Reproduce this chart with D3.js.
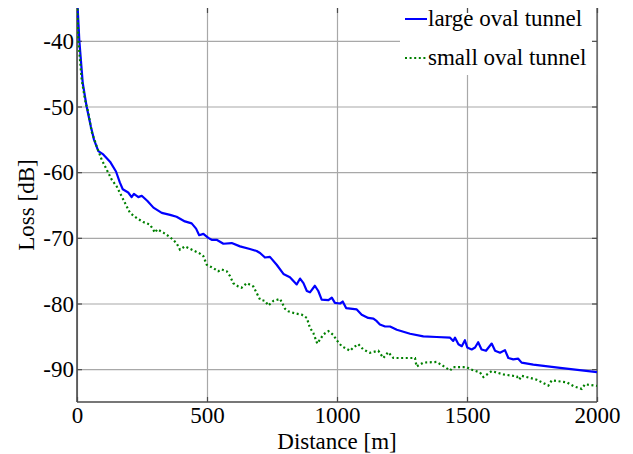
<!DOCTYPE html>
<html>
<head>
<meta charset="utf-8">
<script src="https://cdn.jsdelivr.net/npm/d3@7"></script>
<style>
  html, body { margin: 0; padding: 0; background: #fff; }
  svg text { font-family: "Liberation Serif", "Times New Roman", Times, serif; }
</style>
</head>
<body>
<svg id="chart" width="633" height="454"></svg>
<script>
// Path loss along the tunnel for two cross-sections
const largeDist = [0, 9, 22, 37, 53, 65, 82, 101, 127, 150, 165, 176, 197, 210, 219, 236, 249, 271, 294, 326,
  358, 383, 415, 441, 458, 470, 486, 505, 518, 537, 563, 595, 627, 665, 691, 704, 723, 742, 768, 794,
  819, 845, 858, 871, 884, 896, 915, 928, 941, 967, 980, 992, 1012, 1022, 1035, 1076, 1095, 1120, 1140, 1153,
  1165, 1185, 1204, 1230, 1281, 1332, 1383, 1435, 1447, 1454, 1467, 1480, 1492, 1501, 1518, 1531, 1543, 1556, 1573, 1595,
  1608, 1627, 1646, 1659, 1678, 1697, 1710, 1755, 1858, 2000];
const largeLoss = [-33, -40, -46.4, -50, -53, -55, -56.8, -57.3, -58.4, -59.9, -61.6, -62.6, -63.1, -63.8, -63.3, -63.8, -63.6, -64.4, -65.4, -66.2,
  -66.5, -66.8, -67.5, -67.8, -68.6, -69.6, -69.4, -70.0, -70.3, -70.3, -70.9, -70.8, -71.3, -71.7, -72.0, -72.3, -73.0, -72.9, -74.1, -75.5,
  -76.0, -77.1, -76.2, -76.9, -78.1, -78.3, -77.3, -78.1, -79.4, -79.5, -79.1, -79.9, -80.0, -79.7, -80.7, -80.9, -81.7, -82.2, -82.3, -82.7,
  -83.2, -83.5, -83.5, -84.0, -84.6, -85.0, -85.1, -85.2, -85.7, -85.2, -86.2, -86.5, -85.6, -86.7, -87.0, -86.7, -85.9, -87.0, -87.2, -86.1,
  -87.2, -87.5, -87.1, -88.3, -88.5, -88.4, -89.0, -89.3, -89.8, -90.45];

const smallDist = [0, 5, 18, 31, 44, 56, 76, 95, 114, 133, 153, 172, 191, 204, 230, 255, 281, 300, 309, 332,
  358, 383, 396, 415, 447, 473, 486, 499, 524, 543, 556, 576, 588, 601, 620, 633, 653, 678, 691, 704,
  723, 736, 755, 781, 800, 813, 838, 864, 884, 896, 909, 924, 948, 967, 986, 999, 1018, 1050, 1063, 1082,
  1101, 1127, 1159, 1178, 1197, 1217, 1268, 1300, 1306, 1332, 1383, 1408, 1435, 1447, 1499, 1512, 1550, 1563, 1595, 1640,
  1691, 1701, 1710, 1768, 1813, 1826, 1883, 1910, 1941, 1954, 2000];
const smallLoss = [-33, -39.8, -45.9, -49, -51, -53.8, -56.1, -58.1, -59.6, -61.1, -62.2, -63.7, -65.2, -66.2, -67.0, -67.6, -68.0, -69.2, -68.7, -69.2,
  -69.9, -70.8, -71.8, -71.3, -71.9, -72.4, -72.8, -74.1, -74.6, -75.1, -74.8, -75.1, -75.8, -76.9, -77.4, -77.6, -76.9, -77.4, -78.4, -79.4,
  -79.6, -80.3, -79.6, -79.3, -80.8, -81.2, -81.5, -81.7, -82.2, -83.7, -84.5, -86.1, -84.7, -84.2, -84.8, -85.6, -86.5, -87.2, -86.7, -86.2,
  -87.0, -87.5, -87.2, -88.3, -87.4, -88.3, -88.3, -88.3, -89.6, -89.0, -88.9, -89.5, -90.2, -89.7, -89.7, -90.0, -90.5, -91.2, -90.3, -90.8,
  -91.1, -91.6, -91.0, -91.6, -92.5, -91.7, -92.0, -92.6, -93.0, -92.3, -92.55];

const seriesNames = ["large oval tunnel", "small oval tunnel"];
const xTicks = [0, 500, 1000, 1500, 2000];
const yTicks = [-40, -50, -60, -70, -80, -90];
const xLabel = "Distance [m]";
const yLabel = "Loss [dB]";

const margin = { left: 77, right: 36, top: 8, bottom: 52 };
const W = 633, H = 454;
const innerW = W - margin.left - margin.right;
const innerH = H - margin.top - margin.bottom;
const serif = "'Liberation Serif', 'Times New Roman', Times, serif";
const fontSize = 23;

const svg = d3.select("#chart");
const g = svg.append("g").attr("transform", `translate(${margin.left},${margin.top})`);

const x = d3.scaleLinear().domain([0, 2000]).range([0, innerW]);
const y = d3.scaleLinear().domain([-95, -35]).range([innerH, 0]);

svg.append("defs").append("clipPath").attr("id", "plotClip")
  .append("rect").attr("width", innerW).attr("height", innerH);

// grid lines
const gridColor = "#a8a8a8";
g.append("g").attr("class", "xgrid")
  .attr("transform", `translate(0,${innerH})`)
  .call(d3.axisBottom(x).tickValues(xTicks).tickSize(-innerH).tickFormat(""))
  .call(s => s.select(".domain").remove())
  .call(s => s.selectAll("line").attr("stroke", gridColor).attr("stroke-width", 1.2));
g.append("g").attr("class", "ygrid")
  .call(d3.axisLeft(y).tickValues(yTicks).tickSize(-innerW).tickFormat(""))
  .call(s => s.select(".domain").remove())
  .call(s => s.selectAll("line").attr("stroke", gridColor).attr("stroke-width", 1.2));

// legend background hides the grid behind it
const legend = g.append("g").attr("class", "legend");
legend.append("rect")
  .attr("x", 323).attr("y", 5).attr("width", innerW - 323).attr("height", 62)
  .attr("fill", "#fff");

// inward tick marks on all four sides
const axisColor = "#4a4a4a";
const tickLen = 5;
function styleAxis(s) {
  s.selectAll("line").attr("stroke", axisColor).attr("stroke-width", 1.2);
  s.select(".domain").remove();
}
g.append("g").attr("transform", `translate(0,${innerH})`)
  .call(d3.axisBottom(x).tickValues(xTicks).tickSizeInner(-tickLen).tickFormat("")).call(styleAxis);
g.append("g")
  .call(d3.axisTop(x).tickValues(xTicks).tickSizeInner(-tickLen).tickFormat("")).call(styleAxis);
g.append("g")
  .call(d3.axisLeft(y).tickValues(yTicks).tickSizeInner(-tickLen).tickFormat("")).call(styleAxis);
g.append("g").attr("transform", `translate(${innerW},0)`)
  .call(d3.axisRight(y).tickValues(yTicks).tickSizeInner(-tickLen).tickFormat("")).call(styleAxis);

// axis lines: left, bottom, right
g.append("line").attr("x1", 0).attr("x2", 0).attr("y1", 0).attr("y2", innerH)
  .attr("stroke", axisColor).attr("stroke-width", 1.6);
g.append("line").attr("x1", 0).attr("x2", innerW).attr("y1", innerH).attr("y2", innerH)
  .attr("stroke", axisColor).attr("stroke-width", 1.6);
g.append("line").attr("x1", innerW).attr("x2", innerW).attr("y1", 0).attr("y2", innerH)
  .attr("stroke", axisColor).attr("stroke-width", 1.2);

// tick labels (plain hyphen for negative values)
const plainFormat = d => String(d);
g.append("g").attr("transform", `translate(0,${innerH})`)
  .call(d3.axisBottom(x).tickValues(xTicks).tickSize(0).tickPadding(0).tickFormat(plainFormat))
  .attr("font-family", serif).attr("font-size", fontSize)
  .call(s => s.select(".domain").remove())
  .call(s => s.selectAll("text").attr("y", 21).attr("dy", 0).attr("fill", "#000"));
g.append("g")
  .call(d3.axisLeft(y).tickValues(yTicks).tickSize(0).tickPadding(0).tickFormat(plainFormat))
  .attr("font-family", serif).attr("font-size", fontSize)
  .call(s => s.select(".domain").remove())
  .call(s => s.selectAll("text").attr("x", -3).attr("dy", "0.33em").attr("fill", "#000"));

// axis titles
svg.append("text")
  .attr("x", margin.left + innerW / 2).attr("y", 449)
  .attr("font-family", serif).attr("font-size", fontSize)
  .attr("text-anchor", "middle").text(xLabel);
svg.append("text")
  .attr("transform", `translate(34,${margin.top + innerH / 2}) rotate(-90)`)
  .attr("font-family", serif).attr("font-size", fontSize)
  .attr("text-anchor", "middle").text(yLabel);

// curves
const line = d3.line().x(d => x(d[0])).y(d => y(d[1]));
const largeData = d3.zip(largeDist, largeLoss);
const smallData = d3.zip(smallDist, smallLoss);
const plot = g.append("g").attr("clip-path", "url(#plotClip)");
plot.append("path").datum(largeData).attr("d", line)
  .attr("fill", "none").attr("stroke", "#0000ff").attr("stroke-width", 2.2)
  .attr("stroke-linejoin", "round");
plot.append("path").datum(smallData).attr("d", line)
  .attr("fill", "none").attr("stroke", "#008000").attr("stroke-width", 2.2)
  .attr("stroke-dasharray", "2,2.6");

// legend entries
const styles = [
  { color: "#0000ff", dash: null },
  { color: "#008000", dash: "2,2.6" }
];
const legendY = [11, 50];
seriesNames.forEach((name, i) => {
  legend.append("line")
    .attr("x1", 328).attr("x2", 350).attr("y1", legendY[i]).attr("y2", legendY[i])
    .attr("stroke", styles[i].color).attr("stroke-width", 2)
    .attr("stroke-dasharray", styles[i].dash);
  legend.append("text")
    .attr("x", 351).attr("y", legendY[i]).attr("dy", "0.3em")
    .attr("font-family", serif).attr("font-size", fontSize).text(name);
});
</script>
</body>
</html>
